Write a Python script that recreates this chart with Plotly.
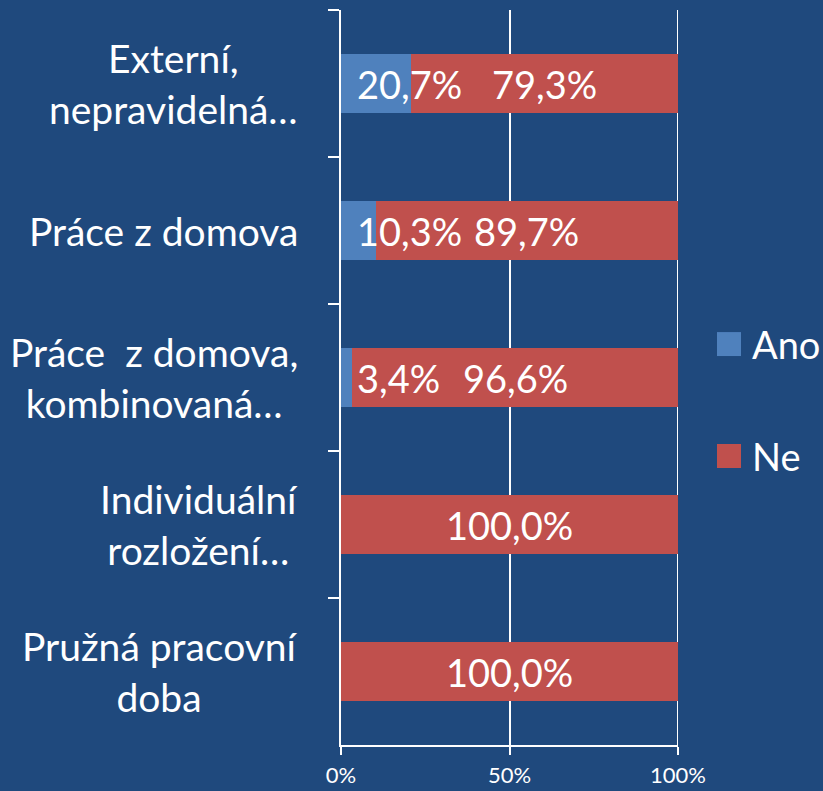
import plotly.graph_objects as go

categories = ["Externí,<br>nepravidelná…", "Práce z domova", "Práce  z domova,<br>kombinovaná…",
              "Individuální<br>rozložení…", "Pružná pracovní<br>doba"]
ano = [20.7, 10.3, 3.4, 0.0, 0.0]
ne = [79.3, 89.7, 96.6, 100.0, 100.0]
x_ticks = [0, 50, 100]
x_tick_labels = ["0%", "50%", "100%"]
series_names = ["Ano", "Ne"]

BG = "#1F497D"
BLUE = "#4F81BD"
RED = "#C0504D"
FONT = "Lato"

def fmt(v):
    return f"{v:.1f}".replace(".", ",") + "%"

fig = go.Figure()
fig.add_trace(go.Bar(y=categories, x=ano, orientation="h", name=series_names[0],
                     marker=dict(color=BLUE, line=dict(width=0)), showlegend=False, hoverinfo="x+name"))
fig.add_trace(go.Bar(y=categories, x=ne, orientation="h", name=series_names[1],
                     marker=dict(color=RED, line=dict(width=0)), showlegend=False, hoverinfo="x+name"))

annotations = []
for c, a, n in zip(categories, ano, ne):
    annotations.append(dict(xref="paper", yref="y", x=0, y=c, xshift=-41, xanchor="right",
                            yanchor="middle", align="center", text=c, showarrow=False,
                            font=dict(family=FONT, size=39, color="white")))
    if a > 0:
        annotations.append(dict(xref="x", yref="y", x=0, y=c, xshift=14, xanchor="left",
                                yanchor="middle", text=fmt(a), showarrow=False,
                                font=dict(family=FONT, size=38, color="white")))
    if n > 0:
        annotations.append(dict(xref="x", yref="y", x=a + n / 2, y=c, xanchor="center",
                                yanchor="middle", text=fmt(n), showarrow=False,
                                font=dict(family=FONT, size=38, color="white")))

shapes = []
# gridline at the last tick (right edge of plot area), drawn beneath the bars
shapes.append(dict(type="line", xref="x", yref="paper", x0=x_ticks[-1], x1=x_ticks[-1], y0=0, y1=1,
                   line=dict(color="white", width=2), layer="below"))

# manual legend
legend_items = [(series_names[0], BLUE, 0.5455), (series_names[1], RED, 0.3932)]
for name, col, yc in legend_items:
    shapes.append(dict(type="rect", xref="paper", yref="paper", x0=1.1157, x1=1.187,
                       y0=yc - 0.0163, y1=yc + 0.0163, fillcolor=col, line=dict(width=0)))
    annotations.append(dict(xref="paper", yref="paper", x=1.215, y=yc, xanchor="left",
                            yanchor="middle", text=name, showarrow=False,
                            font=dict(family=FONT, size=38, color="white")))

fig.update_layout(
    width=823, height=791,
    margin=dict(l=341, r=145, t=10, b=46),
    paper_bgcolor=BG, plot_bgcolor=BG,
    barmode="stack", bargap=0.6,
    showlegend=False,
    annotations=annotations, shapes=shapes,
    font=dict(family=FONT, color="white"),
    xaxis=dict(range=[0, 100], tickvals=x_ticks, ticktext=x_tick_labels, automargin=False,
               showgrid=True, gridcolor="white", gridwidth=2, zeroline=False,
               showline=True, linecolor="white", linewidth=2,
               ticks="outside", ticklen=8, tickwidth=2, tickcolor="white",
               tickfont=dict(family=FONT, size=22, color="white"), ticklabelstandoff=2),
    yaxis=dict(categoryorder="array", categoryarray=categories, autorange="reversed", automargin=False,
               showgrid=False, zeroline=False, showline=True, linecolor="white", linewidth=2,
               ticks="outside", tickson="boundaries", ticklen=11, tickwidth=2, tickcolor="white",
               showticklabels=False),
)

fig.write_html("out.html", config={"displayModeBar": False},
               post_script="document.body.style.margin='0';document.body.style.background='#1F497D';")
